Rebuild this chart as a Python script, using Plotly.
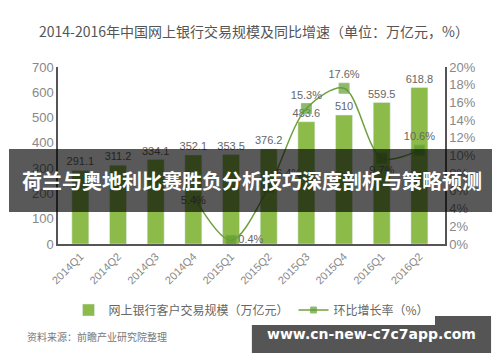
import plotly.graph_objects as go

categories = ["2014Q1", "2014Q2", "2014Q3", "2014Q4", "2015Q1", "2015Q2",
              "2015Q3", "2015Q4", "2016Q1", "2016Q2"]
volume = [291.1, 311.2, 334.1, 352.1, 353.5, 376.2, 483.6, 510, 559.5, 618.8]
growth = [None, None, None, 5.4, 0.4, 6.4, 15.3, 17.6, 9.7, 10.6]
growth_labels = ["", "", "", "5.4%", "0.4%", "6.4%", "15.3%", "17.6%", "9.7%", "10.6%"]
left_ticks = [0, 100, 200, 300, 400, 500, 600, 700]
right_ticks = [0, 2, 4, 6, 8, 10, 12, 14, 16, 18, 20]

TXT = "Liberation Sans, Noto Sans CJK SC, sans-serif"
CJK = "Noto Sans CJK SC, sans-serif"

fig = go.Figure()
fig.add_trace(go.Bar(
    x=categories, y=volume, name="网上银行客户交易规模（万亿元）",
    marker_color="#8cbb4a", width=0.45,
    text=[f"{v:g}" for v in volume], textposition="outside", constraintext="none",
    textfont=dict(size=11, color="#666", family=TXT), cliponaxis=False,
))
fig.add_trace(go.Scatter(
    x=categories, y=growth, name="环比增长率（%）", yaxis="y2",
    mode="lines+markers+text",
    line=dict(color="#6fa040", width=1.5, shape="spline", smoothing=0.9),
    marker=dict(symbol="square", size=[0, 0, 0, 0, 10, 10, 10, 10, 10, 10], color="#5d9e2f"),
    text=growth_labels,
    textposition=["top center"] * 3 + ["bottom center", "middle right", "top right",
                                        "top center", "top center", "bottom center", "top center"],
    textfont=dict(size=11, color="#666", family=TXT), cliponaxis=False,
))

# page body has an 8px margin: figure is 492x354 placed at (8, 8)
fig.update_layout(
    width=492, height=354,
    margin=dict(l=50, r=55, t=59, b=118, autoexpand=False),
    paper_bgcolor="white", plot_bgcolor="white",
    font=dict(family=TXT, color="#666"),
    title=dict(text="2014-2016年中国网上银行交易规模及同比增速（单位：万亿元，%）",
               x=0.5, xanchor="center", y=0.932, yanchor="middle",
               font=dict(size=14, color="#555", family=CJK)),
    bargap=0.5,
    xaxis=dict(showline=True, linecolor="#555", linewidth=1.5, tickangle=-45,
               tickfont=dict(size=11, color="#888"), showgrid=False, ticks="",
               automargin=False),
    yaxis=dict(range=[0, 700], tickvals=left_ticks, showline=True, linecolor="#555",
               linewidth=1.5, showgrid=False, zeroline=False, automargin=False,
               tickfont=dict(size=13, color="#888")),
    yaxis2=dict(range=[0, 20], tickvals=right_ticks, ticktext=[f"{t}%" for t in right_ticks],
                overlaying="y", side="right", showline=True, linecolor="#555",
                linewidth=1.5, showgrid=False, zeroline=False, automargin=False,
                tickfont=dict(size=13, color="#888")),
    legend=dict(orientation="h", x=0.5, xanchor="center", y=-0.373, yanchor="middle",
                font=dict(size=12, color="#666", family=CJK), itemwidth=30,
                traceorder="normal"),
    showlegend=True,
)

fig.add_annotation(text="资料来源：前瞻产业研究院整理", xref="paper", yref="paper",
                   x=-0.085, y=-0.52, xanchor="left", yanchor="middle", showarrow=False,
                   font=dict(size=10, color="#777", family=CJK))

# banner overlay
fig.add_shape(type="rect", xref="paper", yref="paper", x0=-0.1266, x1=1.124,
              y0=0.1808, y1=0.5367, fillcolor="rgba(0,0,0,0.65)", line_width=0, layer="above")
fig.add_annotation(text="<b>荷兰与奥地利比赛胜负分析技巧深度剖析与策略预测</b>",
                   xref="paper", yref="paper", x=0.5, y=0.356, showarrow=False,
                   xanchor="center", yanchor="middle",
                   font=dict(size=20, color="white", family=CJK))

# watermark box
fig.add_shape(type="rect", xref="paper", yref="paper", x0=0.501, x1=1.119,
              y0=-0.6158, y1=-0.4068, fillcolor="#555555", line_width=0, layer="above")
fig.add_annotation(text="<b>www.cn-new-c7c7app.com</b>", xref="paper", yref="paper",
                   x=0.809, y=-0.511, showarrow=False, xanchor="center", yanchor="middle",
                   font=dict(size=14, color="white", family="DejaVu Sans, sans-serif"))

fig.write_html("out.html")
